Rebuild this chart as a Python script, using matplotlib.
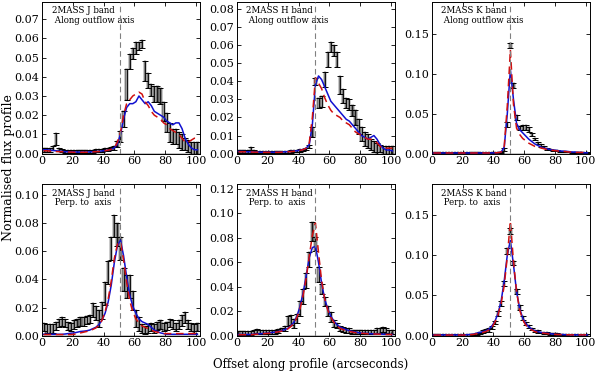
import numpy as np
import matplotlib
matplotlib.use("Agg")
import matplotlib.pyplot as plt

plt.rcParams['font.family'] = 'DejaVu Serif'

# offsets of the profile bins (arcsec)
offset = np.arange(1, 102, 2)

# --- 2MASS J, along outflow axis
j_along = [0.002, 0.002, 0.002, 0.003, 0.0075, 0.002, 0.0015, 0.001, 0.001, 0.001,
           0.001, 0.001, 0.001, 0.001, 0.001, 0.001, 0.0012, 0.0015, 0.0015, 0.0018,
           0.002, 0.002, 0.0025, 0.003, 0.005, 0.009, 0.018, 0.036, 0.048, 0.052,
           0.055, 0.056, 0.057, 0.043, 0.038, 0.033, 0.031, 0.031, 0.030, 0.022,
           0.016, 0.011, 0.009, 0.009, 0.007, 0.006, 0.005, 0.004, 0.003, 0.003, 0.003]
j_along_err = [0.001, 0.001, 0.001, 0.001, 0.003, 0.0008, 0.0008, 0.0008, 0.0008, 0.0008,
               0.0008, 0.0008, 0.0008, 0.0008, 0.0008, 0.0008, 0.0008, 0.0008, 0.0008, 0.0008,
               0.0008, 0.0008, 0.0008, 0.001, 0.0015, 0.003, 0.004, 0.008, 0.004, 0.003,
               0.003, 0.002, 0.002, 0.005, 0.004, 0.003, 0.004, 0.004, 0.004, 0.005,
               0.005, 0.005, 0.004, 0.004, 0.004, 0.004, 0.003, 0.003, 0.003, 0.003, 0.003]
j_along_blue = [0.002, 0.002, 0.0018, 0.0016, 0.0015, 0.0013, 0.0012, 0.001, 0.001, 0.0009,
                0.0009, 0.0008, 0.0008, 0.0008, 0.0008, 0.0009, 0.001, 0.0011, 0.0012, 0.0014,
                0.0016, 0.0018, 0.0022, 0.003, 0.005, 0.010, 0.018, 0.024, 0.026, 0.026,
                0.027, 0.030, 0.028, 0.026, 0.027, 0.025, 0.022, 0.021, 0.020, 0.019,
                0.017, 0.016, 0.015, 0.016, 0.016, 0.013, 0.008, 0.005, 0.003, 0.002, 0.002]
j_along_red = [0.0015, 0.0015, 0.0013, 0.0012, 0.0011, 0.001, 0.001, 0.0009, 0.0008, 0.0008,
               0.0007, 0.0007, 0.0007, 0.0007, 0.0007, 0.0008, 0.0009, 0.001, 0.0011, 0.0013,
               0.0015, 0.0018, 0.0022, 0.003, 0.006, 0.011, 0.020, 0.026, 0.028, 0.030,
               0.031, 0.032, 0.031, 0.027, 0.025, 0.022, 0.020, 0.019, 0.018, 0.016,
               0.015, 0.013, 0.012, 0.011, 0.010, 0.008, 0.006, 0.006, 0.007, 0.008, 0.008]

# --- 2MASS H, along outflow axis
h_along = [0.001, 0.001, 0.001, 0.0012, 0.002, 0.0012, 0.001, 0.001, 0.001, 0.0009,
           0.0009, 0.0009, 0.0009, 0.001, 0.001, 0.001, 0.0011, 0.0012, 0.0013, 0.0015,
           0.0017, 0.002, 0.0025, 0.004, 0.012, 0.040, 0.028, 0.029, 0.041, 0.052,
           0.059, 0.057, 0.052, 0.038, 0.032, 0.028, 0.027, 0.024, 0.020, 0.015,
           0.011, 0.008, 0.007, 0.005, 0.004, 0.003, 0.003, 0.002, 0.002, 0.002, 0.002]
h_along_err = [0.0008, 0.0008, 0.0008, 0.0008, 0.0015, 0.0006, 0.0006, 0.0006, 0.0006, 0.0006,
               0.0006, 0.0006, 0.0006, 0.0006, 0.0006, 0.0006, 0.0006, 0.0006, 0.0006, 0.0006,
               0.0006, 0.0006, 0.0006, 0.001, 0.003, 0.002, 0.003, 0.003, 0.004, 0.004,
               0.003, 0.003, 0.004, 0.005, 0.004, 0.003, 0.003, 0.003, 0.004, 0.004,
               0.004, 0.004, 0.004, 0.003, 0.003, 0.003, 0.002, 0.002, 0.002, 0.002, 0.002]
h_along_blue = [0.0012, 0.0012, 0.0011, 0.001, 0.001, 0.0009, 0.0009, 0.0008, 0.0008, 0.0008,
                0.0008, 0.0008, 0.0008, 0.0008, 0.0009, 0.001, 0.0011, 0.0012, 0.0014, 0.0016,
                0.0019, 0.0023, 0.003, 0.005, 0.016, 0.038, 0.043, 0.041, 0.037, 0.033,
                0.029, 0.027, 0.025, 0.023, 0.021, 0.019, 0.018, 0.016, 0.014, 0.012,
                0.010, 0.009, 0.008, 0.009, 0.010, 0.008, 0.005, 0.003, 0.002, 0.002, 0.0015]
h_along_red = [0.001, 0.001, 0.001, 0.0009, 0.0009, 0.0008, 0.0008, 0.0007, 0.0007, 0.0007,
               0.0007, 0.0007, 0.0007, 0.0007, 0.0008, 0.0009, 0.001, 0.0011, 0.0013, 0.0015,
               0.0018, 0.0022, 0.003, 0.006, 0.020, 0.042, 0.039, 0.036, 0.031, 0.027,
               0.024, 0.022, 0.021, 0.020, 0.018, 0.017, 0.016, 0.014, 0.012, 0.011,
               0.010, 0.009, 0.008, 0.008, 0.007, 0.006, 0.004, 0.003, 0.003, 0.003, 0.003]

# --- 2MASS K, along outflow axis
k_along = [0.001, 0.001, 0.001, 0.001, 0.001, 0.001, 0.001, 0.001, 0.001, 0.001,
           0.001, 0.001, 0.001, 0.001, 0.001, 0.001, 0.001, 0.001, 0.001, 0.001,
           0.001, 0.001, 0.0015, 0.005, 0.036, 0.135, 0.085, 0.045, 0.032, 0.033,
           0.033, 0.030, 0.024, 0.018, 0.013, 0.010, 0.008, 0.006, 0.005, 0.004,
           0.0035, 0.003, 0.0025, 0.002, 0.002, 0.0015, 0.0015, 0.001, 0.001, 0.001, 0.001]
k_along_err = [0.0005, 0.0005, 0.0005, 0.0005, 0.0005, 0.0005, 0.0005, 0.0005, 0.0005, 0.0005,
               0.0005, 0.0005, 0.0005, 0.0005, 0.0005, 0.0005, 0.0005, 0.0005, 0.0005, 0.0005,
               0.0005, 0.0005, 0.0008, 0.002, 0.003, 0.003, 0.003, 0.003, 0.003, 0.003,
               0.003, 0.003, 0.002, 0.0015, 0.0015, 0.0015, 0.0012, 0.001, 0.001, 0.001,
               0.0008, 0.0008, 0.0008, 0.0006, 0.0006, 0.0006, 0.0005, 0.0005, 0.0005, 0.0005, 0.0005]
k_along_blue = [0.0008, 0.0008, 0.0008, 0.0008, 0.0008, 0.0008, 0.0008, 0.0008, 0.0008, 0.0008,
                0.0008, 0.0008, 0.0008, 0.0008, 0.0008, 0.0008, 0.0008, 0.0008, 0.0008, 0.0009,
                0.001, 0.0012, 0.002, 0.008, 0.050, 0.105, 0.068, 0.038, 0.030, 0.026,
                0.022, 0.018, 0.015, 0.012, 0.010, 0.008, 0.007, 0.006, 0.005, 0.0045,
                0.004, 0.0035, 0.003, 0.003, 0.0025, 0.002, 0.002, 0.0015, 0.0015, 0.001, 0.001]
k_along_red = [0.0008, 0.0008, 0.0008, 0.0008, 0.0008, 0.0008, 0.0008, 0.0008, 0.0008, 0.0008,
               0.0008, 0.0008, 0.0008, 0.0008, 0.0008, 0.0008, 0.0008, 0.0008, 0.0008, 0.0009,
               0.001, 0.0012, 0.002, 0.009, 0.060, 0.130, 0.062, 0.032, 0.024, 0.019,
               0.016, 0.013, 0.011, 0.009, 0.008, 0.007, 0.006, 0.005, 0.0045, 0.004,
               0.0035, 0.003, 0.003, 0.0025, 0.002, 0.002, 0.0015, 0.0015, 0.0015, 0.0015, 0.0015]

# --- 2MASS J, perpendicular to axis
j_perp = [0.006, 0.005, 0.005, 0.005, 0.007, 0.009, 0.010, 0.009, 0.007, 0.006,
          0.008, 0.009, 0.010, 0.010, 0.011, 0.012, 0.018, 0.016, 0.012, 0.018,
          0.030, 0.045, 0.062, 0.078, 0.072, 0.062, 0.040, 0.035, 0.035, 0.025,
          0.012, 0.008, 0.005, 0.004, 0.005, 0.006, 0.005, 0.007, 0.008, 0.006,
          0.007, 0.009, 0.008, 0.006, 0.008, 0.011, 0.013, 0.008, 0.006, 0.005, 0.006]
j_perp_err = [0.003, 0.003, 0.003, 0.003, 0.003, 0.003, 0.003, 0.003, 0.003, 0.003,
              0.003, 0.003, 0.003, 0.003, 0.003, 0.003, 0.005, 0.005, 0.006, 0.006,
              0.008, 0.008, 0.008, 0.008, 0.008, 0.008, 0.008, 0.008, 0.008, 0.007,
              0.006, 0.005, 0.003, 0.003, 0.003, 0.003, 0.003, 0.003, 0.003, 0.003,
              0.003, 0.003, 0.003, 0.003, 0.003, 0.004, 0.004, 0.003, 0.003, 0.003, 0.003]
j_perp_blue = [0.001, 0.001, 0.001, 0.001, 0.001, 0.001, 0.001, 0.0012, 0.0015, 0.0018,
               0.002, 0.0025, 0.003, 0.0032, 0.0035, 0.004, 0.005, 0.006, 0.008, 0.011,
               0.016, 0.024, 0.036, 0.052, 0.064, 0.068, 0.057, 0.042, 0.029, 0.021,
               0.016, 0.012, 0.010, 0.009, 0.008, 0.006, 0.004, 0.003, 0.002, 0.0015,
               0.001, 0.001, 0.001, 0.001, 0.001, 0.001, 0.001, 0.001, 0.001, 0.001, 0.001]
j_perp_red = [0.0008, 0.0008, 0.0008, 0.0008, 0.0008, 0.0008, 0.0008, 0.0008, 0.0008, 0.0008,
              0.001, 0.0015, 0.002, 0.0025, 0.003, 0.0035, 0.0045, 0.0055, 0.0075, 0.011,
              0.017, 0.026, 0.039, 0.055, 0.065, 0.067, 0.054, 0.038, 0.025, 0.017,
              0.012, 0.009, 0.007, 0.006, 0.005, 0.004, 0.003, 0.0025, 0.002, 0.0015,
              0.0015, 0.0015, 0.0015, 0.0015, 0.0015, 0.0015, 0.0015, 0.0015, 0.0015, 0.0015, 0.0015]

# --- 2MASS H, perpendicular to axis
h_perp = [0.002, 0.002, 0.002, 0.002, 0.002, 0.003, 0.004, 0.003, 0.003, 0.003,
          0.003, 0.003, 0.003, 0.004, 0.005, 0.006, 0.012, 0.013, 0.010, 0.014,
          0.022, 0.032, 0.045, 0.062, 0.085, 0.075, 0.050, 0.038, 0.028, 0.020,
          0.015, 0.010, 0.008, 0.006, 0.005, 0.004, 0.004, 0.003, 0.003, 0.003,
          0.003, 0.003, 0.003, 0.003, 0.003, 0.004, 0.004, 0.005, 0.004, 0.003, 0.003]
h_perp_err = [0.0015, 0.0015, 0.0015, 0.0015, 0.0015, 0.0015, 0.0015, 0.0015, 0.0015, 0.0015,
              0.0015, 0.0015, 0.0015, 0.0015, 0.0015, 0.002, 0.004, 0.004, 0.004, 0.004,
              0.006, 0.006, 0.006, 0.006, 0.008, 0.006, 0.006, 0.004, 0.004, 0.004,
              0.004, 0.003, 0.002, 0.002, 0.002, 0.002, 0.002, 0.002, 0.002, 0.002,
              0.002, 0.002, 0.002, 0.002, 0.002, 0.002, 0.002, 0.002, 0.002, 0.002, 0.002]
h_perp_blue = [0.001, 0.001, 0.001, 0.001, 0.001, 0.0012, 0.0014, 0.0016, 0.0018, 0.002,
               0.0023, 0.0027, 0.003, 0.0035, 0.004, 0.005, 0.006, 0.008, 0.011, 0.016,
               0.024, 0.035, 0.049, 0.064, 0.072, 0.073, 0.060, 0.043, 0.030, 0.022,
               0.016, 0.012, 0.009, 0.007, 0.006, 0.005, 0.004, 0.0035, 0.003, 0.0025,
               0.002, 0.002, 0.0018, 0.0016, 0.0015, 0.0014, 0.0013, 0.0012, 0.0011, 0.001, 0.001]
h_perp_red = [0.0008, 0.0008, 0.0008, 0.0008, 0.0008, 0.001, 0.0012, 0.0014, 0.0016, 0.0018,
              0.002, 0.0024, 0.0028, 0.0032, 0.0037, 0.0045, 0.0055, 0.0075, 0.010, 0.015,
              0.022, 0.033, 0.047, 0.065, 0.082, 0.092, 0.068, 0.045, 0.030, 0.021,
              0.015, 0.011, 0.008, 0.006, 0.005, 0.004, 0.0035, 0.003, 0.0025, 0.002,
              0.002, 0.0018, 0.0016, 0.0015, 0.0014, 0.0013, 0.0012, 0.0011, 0.001, 0.001, 0.001]

# --- 2MASS K, perpendicular to axis
k_perp = [0.001, 0.001, 0.001, 0.001, 0.001, 0.001, 0.001, 0.001, 0.001, 0.001,
          0.001, 0.001, 0.001, 0.0015, 0.002, 0.003, 0.005, 0.006, 0.007, 0.010,
          0.016, 0.028, 0.040, 0.065, 0.105, 0.130, 0.090, 0.055, 0.035, 0.022,
          0.015, 0.011, 0.008, 0.006, 0.005, 0.004, 0.003, 0.003, 0.002, 0.002,
          0.002, 0.0015, 0.0015, 0.0015, 0.001, 0.001, 0.001, 0.001, 0.001, 0.001, 0.001]
k_perp_err = [0.001, 0.001, 0.001, 0.001, 0.001, 0.001, 0.001, 0.001, 0.001, 0.001,
              0.001, 0.001, 0.001, 0.001, 0.001, 0.0015, 0.0015, 0.002, 0.002, 0.002,
              0.002, 0.003, 0.003, 0.003, 0.004, 0.004, 0.003, 0.003, 0.003, 0.002,
              0.002, 0.002, 0.0015, 0.0015, 0.0015, 0.001, 0.001, 0.001, 0.001, 0.001,
              0.001, 0.001, 0.001, 0.001, 0.001, 0.001, 0.001, 0.001, 0.001, 0.001, 0.001]
k_perp_blue = [0.001, 0.001, 0.001, 0.001, 0.001, 0.001, 0.001, 0.001, 0.001, 0.001,
               0.001, 0.0012, 0.0015, 0.002, 0.003, 0.004, 0.005, 0.006, 0.008, 0.012,
               0.018, 0.028, 0.043, 0.068, 0.100, 0.118, 0.088, 0.055, 0.034, 0.022,
               0.015, 0.011, 0.008, 0.006, 0.005, 0.004, 0.0035, 0.003, 0.0025, 0.002,
               0.0015, 0.0015, 0.0015, 0.0012, 0.0012, 0.001, 0.001, 0.001, 0.001, 0.001, 0.001]
k_perp_red = [0.0008, 0.0008, 0.0008, 0.0008, 0.0008, 0.0008, 0.0008, 0.0008, 0.0008, 0.0008,
              0.0008, 0.001, 0.0012, 0.0016, 0.0024, 0.0032, 0.004, 0.005, 0.007, 0.010,
              0.017, 0.026, 0.040, 0.062, 0.098, 0.142, 0.092, 0.055, 0.032, 0.020,
              0.013, 0.009, 0.007, 0.005, 0.004, 0.0035, 0.003, 0.0025, 0.002, 0.0018,
              0.0015, 0.0014, 0.0013, 0.0012, 0.0011, 0.001, 0.001, 0.001, 0.001, 0.001, 0.001]

panels = [
    ("J", "Along outflow axis", j_along, j_along_err, j_along_blue, j_along_red, 0.079, np.arange(0, 0.071, 0.01)),
    ("H", "Along outflow axis", h_along, h_along_err, h_along_blue, h_along_red, 0.084, np.arange(0, 0.081, 0.01)),
    ("K", "Along outflow axis", k_along, k_along_err, k_along_blue, k_along_red, 0.19, np.arange(0, 0.16, 0.05)),
    ("J", "Perp. to  axis", j_perp, j_perp_err, j_perp_blue, j_perp_red, 0.108, np.arange(0, 0.101, 0.02)),
    ("H", "Perp. to  axis", h_perp, h_perp_err, h_perp_blue, h_perp_red, 0.124, np.arange(0, 0.121, 0.02)),
    ("K", "Perp. to  axis", k_perp, k_perp_err, k_perp_blue, k_perp_red, 0.188, np.arange(0, 0.16, 0.05)),
]

fig, axes = plt.subplots(2, 3, figsize=(6.0, 3.73), dpi=100)
fig.subplots_adjust(left=0.07, right=0.984, bottom=0.1, top=0.995, wspace=0.23, hspace=0.2)

for ax, (band, label, y, err, blue, red, ytop, yticks) in zip(axes.flat, panels):
    y = np.array(y)
    err = np.array(err)
    lo = np.clip(y - err, 0, None)
    ax.axhline(0, color='0.75', lw=2, zorder=0)
    ax.bar(offset, y + err - lo, bottom=lo, width=1.5, color='0.6',
           edgecolor='black', linewidth=0.3, zorder=1)
    ax.errorbar(offset, y, yerr=err, fmt='none', ecolor='black', elinewidth=0.6,
                capsize=2.2, capthick=0.7, zorder=2)
    ax.plot(offset, blue, color='#1010d0', lw=1.1, zorder=3)
    ax.plot(offset, red, color='#d01010', lw=1.1, ls=(0, (5, 3)), zorder=4)
    ax.axvline(51, color='0.5', lw=0.8, ls=(0, (5, 3)), zorder=5)
    ax.set_xlim(0, 103)
    ax.set_ylim(0, ytop)
    ax.set_xticks([0, 20, 40, 60, 80, 100])
    ax.set_yticks(yticks)
    ax.set_yticklabels(["%.2f" % v for v in yticks])
    ax.tick_params(direction='in', top=True, right=True, labelsize=8, length=3, width=0.6, pad=2)
    for s in ax.spines.values():
        s.set_linewidth(0.7)
    ax.text(0.06, 0.97, "2MASS %s band\n %s" % (band, label), transform=ax.transAxes,
            fontsize=6.2, va='top', ha='left', linespacing=1.05)

fig.text(0.014, 0.55, "Normalised flux profile", rotation=90, va='center', ha='center', fontsize=9)
fig.text(0.517, 0.022, "Offset along profile (arcseconds)", va='center', ha='center', fontsize=8.5)

fig.savefig("out.png", dpi=100)
